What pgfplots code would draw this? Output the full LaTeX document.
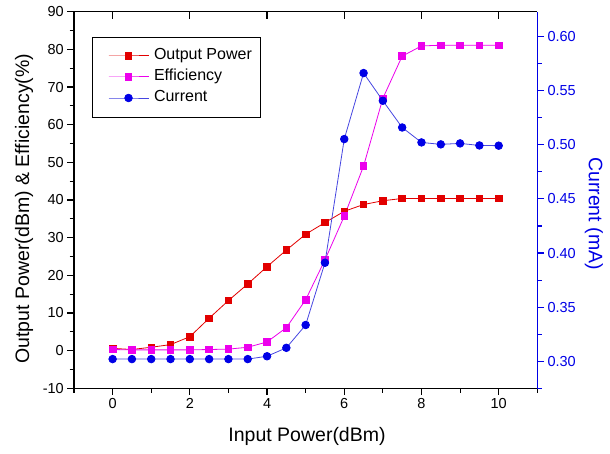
\documentclass[border=0pt]{standalone}
\usepackage{fontspec}
\setmainfont{Liberation Sans}
\usepackage{pgfplots}
\pgfplotsset{compat=1.18}

\definecolor{opred}{RGB}{226,0,0}
\definecolor{effmag}{RGB}{236,0,236}
\definecolor{curblue}{RGB}{0,0,230}
\definecolor{curline}{RGB}{70,70,225}

\pgfplotsset{
  base/.style={scale only axis, width=463.3pt, height=376.6pt, xmin=-1, xmax=11,
    /pgf/number format/assume math mode=true,
    tick label style={font=\fontsize{14.5}{17}\selectfont},
    major tick length=6.7pt, minor tick length=4.3pt,
    every tick/.style={line width=1.1pt},
    x axis line style={-, line width=1.3pt}, y axis line style={-, line width=1.3pt}},
}

\begin{document}
\begin{tikzpicture}
% top spine, ticks inside
\begin{axis}[base, ymin=0, ymax=1, axis x line*=top, axis y line=none,
  xtick={0,2,...,10}, xticklabels={}, tick align=inside, major tick length=7.5pt]
\end{axis}

\begin{axis}[base, name=main, ymin=-10, ymax=90,
  axis x line*=bottom, axis y line*=left, tick align=outside,
  xtick={0,2,...,10}, minor xtick={-1,1,3,5,7,9,11},
  ytick={-10,0,...,90}, minor ytick={-5,5,...,85},
  xlabel={Input Power(dBm)}, ylabel={Output Power(dBm) \& Efficiency(\%)},
  label style={font=\fontsize{19.5}{22}\selectfont},
  xlabel style={at={(axis description cs:0.503,-0.129)}, anchor=center},
  ylabel style={at={(axis description cs:-0.108,0.477)}, anchor=center}]
\addplot[opred, line width=0.8pt, mark=square*, mark size=3.3pt] coordinates {
(0,0.6)(0.5,0.3)(1,0.9)(1.5,1.6)(2,3.7)(2.5,8.6)(3,13.3)(3.5,17.7)(4,22.3)(4.5,26.7)
(5,30.9)(5.5,34.0)(6,37.0)(6.5,38.8)(7,39.8)(7.5,40.4)(8,40.4)(8.5,40.4)(9,40.4)(9.5,40.4)(10,40.4)};
\addplot[effmag, line width=0.8pt, mark=square*, mark size=3.3pt] coordinates {
(0,0.3)(0.5,0.2)(1,0.2)(1.5,0.2)(2,0.2)(2.5,0.3)(3,0.4)(3.5,0.9)(4,2.3)(4.5,6.1)
(5,13.5)(5.5,24.1)(6,35.7)(6.5,49.0)(7,67.0)(7.5,78.2)(8,80.9)(8.5,81.1)(9,81.1)(9.5,81.1)(10,81.1)};
\end{axis}

\begin{axis}[base, ymin=0.275, ymax=0.623,
  axis x line=none, axis y line*=right, tick align=outside,
  y axis line style={curblue}, ytick style={curblue},
  ytick={0.3,0.35,0.4,0.45,0.5,0.55,0.6}, minor ytick={0.275,0.325,0.375,0.425,0.475,0.525,0.575},
  yticklabel style={curblue, /pgf/number format/.cd, fixed, fixed zerofill, precision=2},
  ylabel={Current (mA)},
  ylabel style={curblue, font=\fontsize{19.5}{22}\selectfont, at={(axis description cs:1.122,0.464)}, anchor=center, rotate=180},
  legend cell align=left,
  legend image code/.code={\path (0pt,0pt); \draw[mark repeat=2, mark phase=2] plot coordinates {(7.5pt,0pt)(27.5pt,0pt)(47.5pt,0pt)};},
  legend style={at={(axis description cs:0.039,0.934)}, anchor=north west, draw=black, line width=0.9pt,
    font=\fontsize{16}{19}\selectfont, inner xsep=8pt, inner ysep=8.5pt, row sep=0pt,
    nodes={inner xsep=1pt, inner ysep=2.75pt, text height=11.5pt, text depth=4pt},
    /tikz/every odd column/.append style={column sep=4pt}}]
\addlegendimage{opred, line width=1pt, mark=square*, mark size=3.3pt}
\addlegendentry{Output Power}
\addlegendimage{effmag, line width=1pt, mark=square*, mark size=3.3pt}
\addlegendentry{Efficiency}
\addplot[curline, line width=0.8pt, mark=*, mark size=3.8pt, mark options={fill=curblue, draw=curblue}] coordinates {
(0,0.302)(0.5,0.302)(1,0.302)(1.5,0.302)(2,0.302)(2.5,0.302)(3,0.302)(3.5,0.302)(4,0.3046)(4.5,0.3124)
(5,0.3335)(5.5,0.391)(6,0.5053)(6.5,0.5663)(7,0.5407)(7.5,0.516)(8,0.5022)(8.5,0.5004)(9,0.5013)(9.5,0.4994)(10,0.4992)};
\addlegendentry{Current}
\end{axis}
\pgfresetboundingbox
\path[use as bounding box] (-74pt,-65.7pt) rectangle (536pt,388.3pt);
\end{tikzpicture}
\end{document}
